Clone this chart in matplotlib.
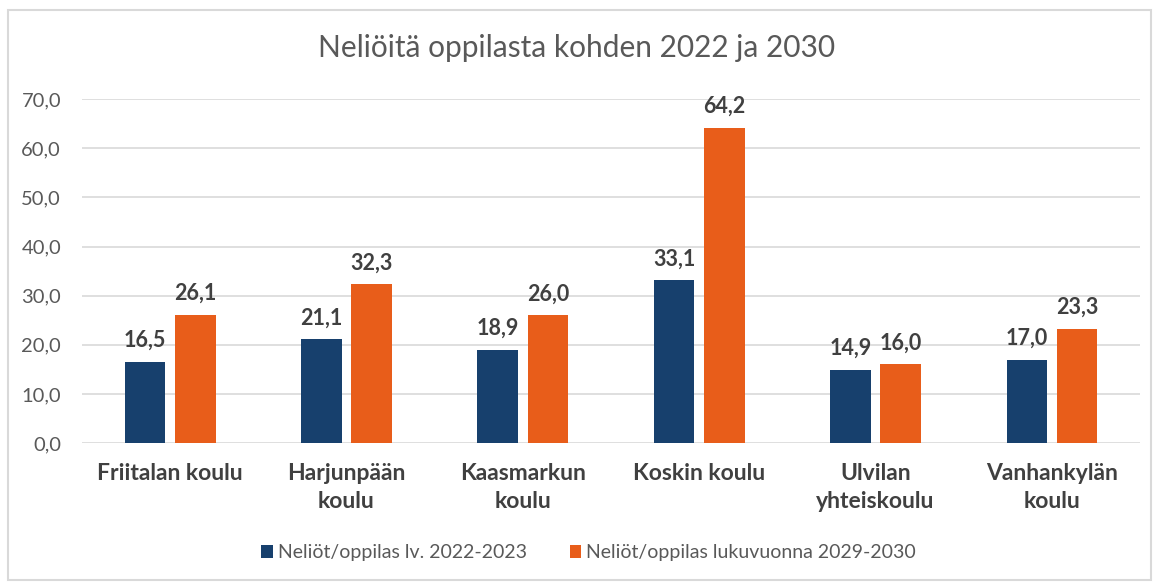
import matplotlib.pyplot as plt
from matplotlib.patches import Rectangle
import numpy as np

schools = ["Friitalan koulu", "Harjunpään\nkoulu", "Kaasmarkun\nkoulu", "Koskin koulu",
           "Ulvilan\nyhteiskoulu", "Vanhankylän\nkoulu"]
vals_2022 = [16.5, 21.1, 18.9, 33.1, 14.9, 17.0]
vals_2030 = [26.1, 32.3, 26.0, 64.2, 16.0, 23.3]
labels = ["Neliöt/oppilas lv. 2022-2023", "Neliöt/oppilas lukuvuonna 2029-2030"]

plt.rcParams['font.family'] = ['Lato', 'DejaVu Sans']

fig = plt.figure(figsize=(11.54, 5.83), dpi=100)
ax = fig.add_axes([0.071, 0.240, 0.917, 0.590])

x = np.arange(len(schools))
w = 0.23
gap = 0.055
b1 = ax.bar(x - (w + gap) / 2, vals_2022, w, color='#17406D', label=labels[0], zorder=3)
b2 = ax.bar(x + (w + gap) / 2, vals_2030, w, color='#E85D1A', label=labels[1], zorder=3)

for bars in (b1, b2):
    for r in bars:
        ax.annotate(f"{r.get_height():.1f}".replace('.', ','),
                    (r.get_x() + r.get_width() / 2, r.get_height()),
                    xytext=(0, 8), textcoords='offset points', ha='center', va='bottom',
                    fontsize=15.5, fontweight='bold', color='#404040')

ax.set_ylim(0, 70)
ax.set_xlim(-0.5, len(schools) - 0.5)
ax.set_yticks(np.arange(0, 71, 10))
ax.set_yticklabels([f"{v:.1f}".replace('.', ',') for v in np.arange(0, 71, 10)])
ax.set_xticks(x)
ax.set_xticklabels(schools, fontsize=16.5, fontweight='bold', color='#404040', linespacing=1.45)
ax.tick_params(axis='y', labelsize=14.5, labelcolor='#595959', length=0, pad=15)
ax.tick_params(axis='x', length=0, pad=14)
ax.grid(axis='y', color='#D9D9D9', lw=1.2, zorder=0)
for s in ax.spines.values():
    s.set_visible(False)

fig.text(0.5, 0.918, "Neliöitä oppilasta kohden 2022 ja 2030", ha='center', va='center',
         fontsize=21.5, color='#595959')
fig.legend(loc='center', bbox_to_anchor=(0.51, 0.052), ncol=2, frameon=False,
           fontsize=14, labelcolor='#595959', handlelength=0.6, handleheight=0.6,
           handletextpad=0.25, columnspacing=2.2)

fig.patches.append(Rectangle((0.007, 0.005), 0.99, 0.978, transform=fig.transFigure,
                             fill=False, edgecolor='#D9D9D9', lw=1.5))

fig.savefig('out.png', dpi=100)
